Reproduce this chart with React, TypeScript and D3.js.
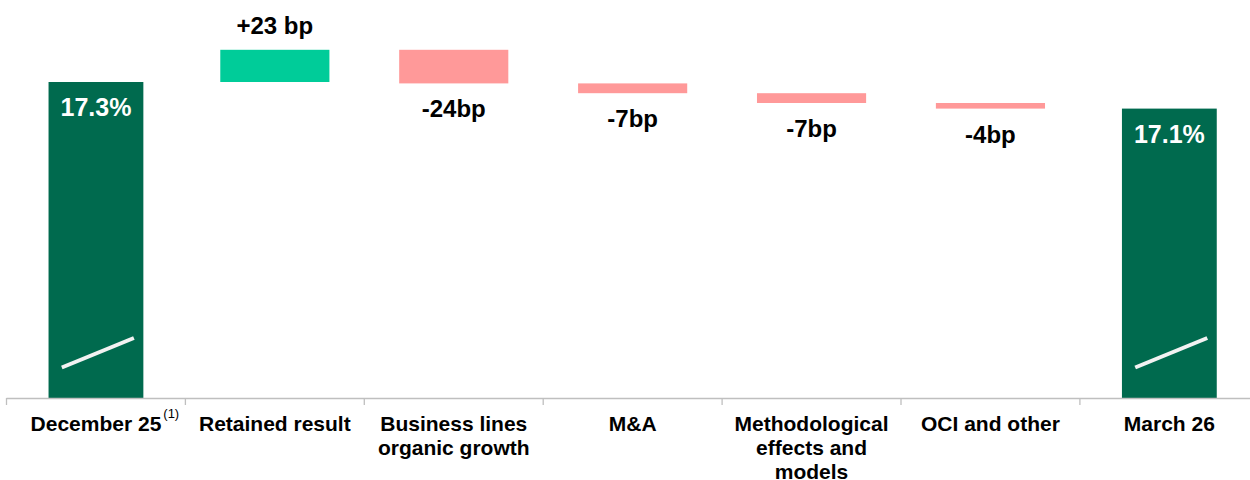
import React, { useEffect, useRef } from "react";
import * as d3 from "d3";

const categories = [
  "December 25",
  "Retained result",
  "Business lines\norganic growth",
  "M&A",
  "Methodological\neffects and\nmodels",
  "OCI and other",
  "March 26",
];
const startValue = 17.3;
const endValue = 17.1;
const deltasBp = [23, -24, -7, -7, -4];
const deltaLabels = ["+23 bp", "-24bp", "-7bp", "-7bp", "-4bp"];
const totalLabels = ["17.3%", "17.1%"];
const footnote = "(1)";

const W = 1250;
const H = 480;
const DARK = "#006A4E";
const UP = "#00CC99";
const DOWN = "#FF9999";
const FONT = "'Liberation Sans', Arial, sans-serif";

export default function App() {
  const ref = useRef<SVGSVGElement>(null);

  useEffect(() => {
    const svg = d3.select(ref.current);
    svg.selectAll("*").remove();

    const axisY = 398;
    const x = d3.scaleBand<string>().domain(categories).range([6.5, 6.5 + 7 * 178.9]).padding(0);
    const y = d3.scaleLinear().domain([15.043, 17.3]).range([axisY, 82]);
    const step = x.step();
    const totalW = step * 0.53;
    const deltaW = step * 0.61;

    // running waterfall
    let running = startValue;
    const steps = deltasBp.map((d, i) => {
      const from = running;
      const to = running + d / 100;
      running = to;
      return { cat: categories[i + 1], from, to, d, label: deltaLabels[i] };
    });
    const finalValue = running; // ≈ endValue
    const totals = [
      { cat: categories[0], v: startValue, label: totalLabels[0] },
      { cat: categories[categories.length - 1], v: finalValue, label: totalLabels[1] },
    ];

    // total bars
    totals.forEach((t) => {
      const cx = x(t.cat)! + step / 2;
      const x0 = cx - totalW / 2;
      svg.append("rect")
        .attr("x", x0).attr("y", y(t.v))
        .attr("width", totalW).attr("height", axisY - y(t.v))
        .attr("fill", DARK);
      svg.append("text")
        .attr("x", cx).attr("y", y(t.v) + 34)
        .attr("text-anchor", "middle")
        .attr("font-family", FONT).attr("font-weight", "bold")
        .attr("font-size", 25).attr("fill", "#ffffff")
        .text(t.label);
      // axis-break slash
      svg.append("line")
        .attr("x1", x0 + totalW * 0.14).attr("y1", axisY - 30.5)
        .attr("x2", x0 + totalW * 0.9).attr("y2", axisY - 60)
        .attr("stroke", "#F2F2F2").attr("stroke-width", 4);
    });

    // delta bars
    steps.forEach((s) => {
      const cx = x(s.cat)! + step / 2;
      const top = y(Math.max(s.from, s.to));
      const bottom = y(Math.min(s.from, s.to));
      svg.append("rect")
        .attr("x", cx - deltaW / 2).attr("y", top)
        .attr("width", deltaW).attr("height", bottom - top)
        .attr("fill", s.d >= 0 ? UP : DOWN);
      svg.append("text")
        .attr("x", cx)
        .attr("y", s.d >= 0 ? top - 16 : bottom + 34)
        .attr("text-anchor", "middle")
        .attr("font-family", FONT).attr("font-weight", "bold")
        .attr("font-size", 24).attr("fill", "#000000")
        .text(s.label);
    });

    // axis
    svg.append("line")
      .attr("x1", x.range()[0]).attr("x2", W)
      .attr("y1", axisY + 0.5).attr("y2", axisY + 0.5)
      .attr("stroke", "#BFBFBF").attr("stroke-width", 1.3);
    categories.forEach((c) => {
      const bx = x(c)!;
      svg.append("line")
        .attr("x1", bx).attr("x2", bx)
        .attr("y1", axisY).attr("y2", axisY + 7)
        .attr("stroke", "#BFBFBF").attr("stroke-width", 1.3);
    });

    // category labels
    categories.forEach((c, i) => {
      const cx = x(c)! + step / 2;
      const lines = c.split("\n");
      const t = svg.append("text")
        .attr("text-anchor", "middle")
        .attr("font-family", FONT).attr("font-weight", "bold")
        .attr("font-size", 21).attr("fill", "#000000");
      lines.forEach((ln, j) => {
        t.append("tspan").attr("x", cx).attr("y", 431 + j * 24).text(ln);
      });
      if (i === 0) {
        const w = (t.node() as SVGTextElement).getComputedTextLength();
        svg.append("text")
          .attr("x", cx + w / 2 + 2).attr("y", 418)
          .attr("font-family", FONT).attr("font-size", 13).attr("fill", "#000000")
          .text(footnote);
      }
    });
  }, []);

  return (
    <svg
      ref={ref}
      width={W}
      height={H}
      style={{ position: "absolute", left: 0, top: 0, background: "#ffffff" }}
    />
  );
}
